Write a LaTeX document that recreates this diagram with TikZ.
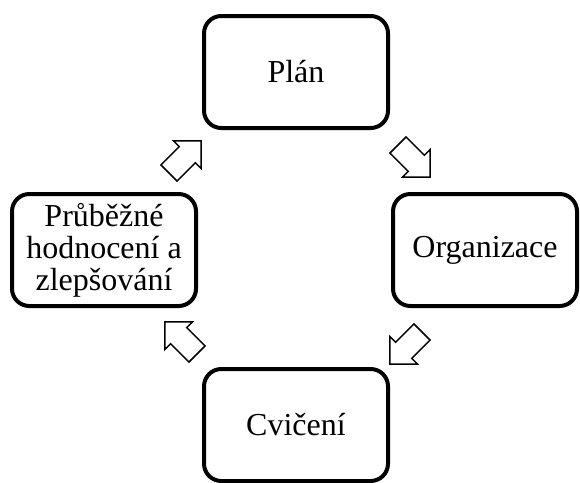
\documentclass[tikz,border=0pt]{standalone}
\usepackage{fontspec}
\setmainfont{Liberation Serif}
\usetikzlibrary{shapes.arrows, positioning}

\begin{document}
\begin{tikzpicture}[
    x=0.75pt, y=-0.75pt,
    stage/.style={rectangle, draw, line width=3pt, rounded corners=13pt, minimum width=138pt, minimum height=84pt, align=center, font=\fontsize{24}{24}\selectfont},
    cyclearrow/.style={single arrow, draw, line width=1.1pt, minimum height=34pt, inner xsep=0pt, inner ysep=8pt, single arrow head extend=6pt, single arrow tip angle=90}
]
\useasboundingbox (0,0) rectangle (580,482);

% Stages of the cycle
\node[stage] (plan) at (296,72) {Plán};
\node[stage] (org) at (485,250) {Organizace};
\node[stage] (cvic) at (296,425) {Cvičení};
\node[stage] (hodn) at (104,250) {Průběžné\\hodnocení a\\zlepšování};

% Arrows between stages
\node[cyclearrow, rotate=-45] (a1) at (410,157) {};
\node[cyclearrow, rotate=-135] (a2) at (410,344) {};
\node[cyclearrow, rotate=135] (a3) at (185,342) {};
\node[cyclearrow, rotate=45] (a4) at (181,161) {};

\end{tikzpicture}
\end{document}
